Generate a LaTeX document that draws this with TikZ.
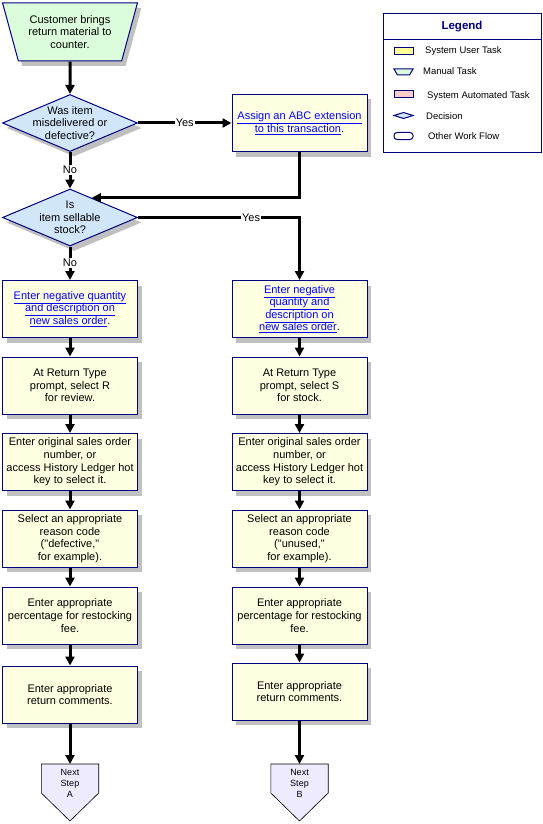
\documentclass[tikz,border=0pt]{standalone}
\usepackage{fontspec}
\setmainfont{Liberation Sans}[Ligatures=TeXOff]
\usetikzlibrary{shapes.geometric,shadows,arrows.meta,backgrounds,calc}
\definecolor{navyline}{HTML}{000080}
\definecolor{taskfill}{HTML}{FFFFE1}
\definecolor{manualfill}{HTML}{DCFDDC}
\definecolor{decisionfill}{HTML}{D2E6FA}
\definecolor{nextfill}{HTML}{EEEAFF}
\definecolor{shadowgray}{HTML}{C0C0C0}
\definecolor{linkblue}{HTML}{0000FF}
\definecolor{legyellow}{HTML}{FFFF99}
\definecolor{legpink}{HTML}{FFCCCC}
\newcommand{\chartsize}{\fontsize{11}{12.6}\selectfont}
\newcommand{\lk}[1]{\textcolor{linkblue}{\underline{#1}}}
\begin{document}
\begin{tikzpicture}[
  x=1pt, y=-1pt,
  shade box/.style={drop shadow={shadow xshift=4pt, shadow yshift=-5pt, fill=shadowgray, opacity=1}},
  task/.style={rectangle, draw=navyline, line width=1pt, fill=taskfill, minimum width=135pt,
    minimum height=57pt, inner sep=1pt, align=center, font=\chartsize, shade box},
  decision/.style={diamond, shape aspect=2.35, draw=navyline, line width=1pt, fill=decisionfill,
    minimum width=135pt, minimum height=57pt, inner xsep=0pt, inner ysep=-12pt, align=center,
    font=\chartsize, shade box},
  manual/.style={trapezium, shape border rotate=180, trapezium left angle=71, trapezium right angle=71,
    trapezium stretches=true, draw=navyline, line width=1pt, fill=manualfill, minimum width=135pt,
    minimum height=58pt, align=center, font=\chartsize, shade box},
  nextstep/.style={rectangle, minimum width=57pt, minimum height=38pt, inner sep=0pt, anchor=north,
    align=center, font=\fontsize{9}{11}\selectfont},
  flow/.style={line width=3pt, -{Triangle[length=9pt,width=9pt]}},
  lbl/.style={fill=white, inner sep=1pt, font=\chartsize},
  legsym/.style={draw=navyline, line width=1pt, minimum width=19pt, minimum height=7pt, inner sep=0pt},
  legtext/.style={anchor=west, inner sep=0pt, font=\fontsize{9.5}{11}\selectfont}
]
\useasboundingbox (0,0) rectangle (543,824);

\node [manual] (start) at (70,32) {Customer brings\\return material to\\counter.};
\node [decision] (d1) at (70,123) {Was item\\misdelivered or\\defective?};
\node [task] (assign) at (299.5,123) {\lk{Assign an ABC extension}\\\lk{to this transaction}.};
\node [decision] (d2) at (70,217.5) {Is\\item sellable\\stock?};

\node [task] (L1) at (70,309) {\lk{Enter negative quantity}\\\lk{and description on}\\\lk{new sales order}.};
\node [task] (L2) at (70,385.5) {At Return Type\\prompt, select R\\for review.};
\node [task] (L3) at (70,462) {Enter original sales order\\number, or\\access History Ledger hot\\key to select it.};
\node [task] (L4) at (70,538.5) {Select an appropriate\\reason code\\("defective,"\\for example).};
\node [task] (L5) at (70,615.5) {Enter appropriate\\percentage for restocking\\fee.};
\node [task] (L6) at (70,694.5) {Enter appropriate\\return comments.};
\node [nextstep] (nA) at (70,764) {Next\\Step\\A};

\node [task] (R1) at (299.5,309) {\lk{Enter negative}\\\lk{quantity and}\\\lk{description on}\\\lk{new sales order}.};
\node [task] (R2) at (299.5,385.5) {At Return Type\\prompt, select S\\for stock.};
\node [task] (R3) at (299.5,462) {Enter original sales order\\number, or\\access History Ledger hot\\key to select it.};
\node [task] (R4) at (299.5,538.5) {Select an appropriate\\reason code\\("unused,"\\for example).};
\node [task] (R5) at (299.5,615.5) {Enter appropriate\\percentage for restocking\\fee.};
\node [task] (R6) at (299.5,691.5) {Enter appropriate\\return comments.};
\node [nextstep] (nB) at (299.5,764) {Next\\Step\\B};

\begin{scope}[on background layer]
\fill [white] (0,0) rectangle (543,824);
\foreach \n in {nA,nB}
  \draw [fill=nextfill, line width=0.6pt] (\n.north west) -- (\n.north east)
    -- ($(\n.north east)+(0,29)$) -- ($(\n.north)+(0,57)$) -- ($(\n.north west)+(0,29)$) -- cycle;
\end{scope}

\draw [flow] (start) -- (d1);
\draw [flow] (d1) -- node [lbl] {Yes} (assign);
\draw [flow] (d1) -- node [lbl] {No} (d2);
\draw [flow] (assign.south) |- (d2.42);
\draw [flow] (d2) -| node [lbl, pos=0.35] {Yes} (R1);
\draw [flow] (d2) -- node [lbl] {No} (L1);
\foreach \a/\b in {L1/L2,L2/L3,L3/L4,L4/L5,L5/L6,L6/nA,R1/R2,R2/R3,R3/R4,R4/R5,R5/R6,R6/nB}
  \draw [flow] (\a) -- (\b);

% legend
\draw [navyline, line width=1pt] (383,14) rectangle (541,152);
\draw [navyline, line width=1pt] (383,40) -- (541,40);
\node [text=navyline, font=\bfseries\fontsize{11.5}{13}\selectfont] (legtitle) at (462,27) {Legend};
\node [legsym, fill=legyellow] (legU) at (403.5,51.5) {};
\node [legtext] at (425,51) {System User Task};
\draw [navyline, line width=1pt, fill=manualfill] (394,69) -- (413,69) -- (409.5,75) -- (397.5,75) -- cycle;
\node [legtext] at (423,71) {Manual Task};
\node [legsym, fill=legpink] (legA) at (403.5,94) {};
\node [legtext] at (427,96) {System Automated Task};
\draw [navyline, line width=1pt, fill=decisionfill] (394,115.5) -- (403.5,112.5) -- (413,115.5) -- (403.5,118.5) -- cycle;
\node [legtext] at (426,116) {Decision};
\node [legsym, rounded corners=3pt, fill=white] (legW) at (403.5,136) {};
\node [legtext] at (428,136) {Other Work Flow};
\end{tikzpicture}
\end{document}
